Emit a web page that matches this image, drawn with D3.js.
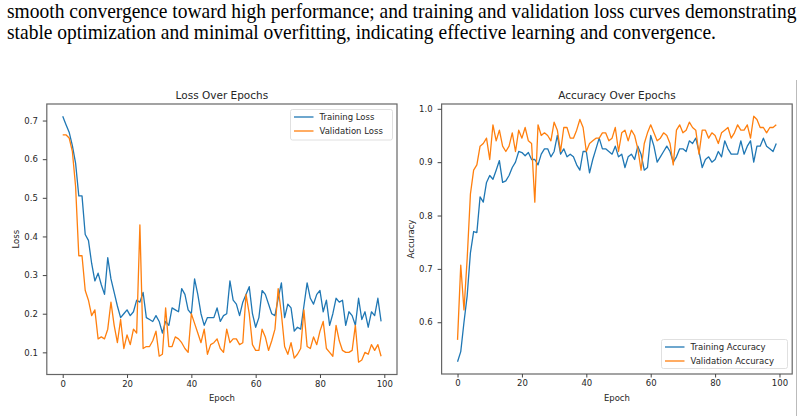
<!DOCTYPE html>
<html>
<head>
<meta charset="utf-8">
<script src="https://cdn.jsdelivr.net/npm/d3@7"></script>
<style>
  body { margin: 0; background: #fff; }
  svg { display: block; }
  .para { font-family: "Liberation Serif", serif; font-size: 19.5px; fill: #000; }
  .tick text, .legend text, .label { font-family: "DejaVu Sans", sans-serif; font-size: 8.5px; fill: #262626; }
  .title { font-family: "DejaVu Sans", sans-serif; font-size: 10.5px; fill: #262626; }
  .tick line { stroke: #444; }
</style>
</head>
<body>
<svg id="fig" width="804" height="416"></svg>
<script>
let para_lines = [
  "smooth convergence toward high performance; and training and validation loss curves demonstrating",
  "stable optimization and minimal overfitting, indicating effective learning and convergence."
]

let epochs = d3.range(100)
let epoch_ticks = [0, 20, 40, 60, 80, 100]
let loss_ticks = [0.1, 0.2, 0.3, 0.4, 0.5, 0.6, 0.7]
let acc_ticks = [0.6, 0.7, 0.8, 0.9, 1.0]

let train_loss = [
  0.711, 0.69, 0.67, 0.635, 0.59, 0.505, 0.505, 0.405, 0.39, 0.33,
  0.285, 0.305, 0.275, 0.25, 0.345, 0.29, 0.255, 0.22, 0.19, 0.2,
  0.21, 0.195, 0.205, 0.235, 0.23, 0.255, 0.19, 0.185, 0.18, 0.195,
  0.18, 0.15, 0.18, 0.17, 0.215, 0.21, 0.205, 0.265, 0.25, 0.21,
  0.2, 0.29, 0.25, 0.2, 0.17, 0.19, 0.19, 0.19, 0.215, 0.18,
  0.195, 0.2, 0.285, 0.235, 0.225, 0.195, 0.23, 0.25, 0.27, 0.2,
  0.165, 0.19, 0.26, 0.25, 0.225, 0.2, 0.195, 0.24, 0.28, 0.19,
  0.225, 0.215, 0.155, 0.165, 0.16, 0.22, 0.28, 0.24, 0.225, 0.25,
  0.26, 0.205, 0.235, 0.17, 0.2, 0.24, 0.23, 0.235, 0.17, 0.205,
  0.195, 0.17, 0.24, 0.185, 0.205, 0.165, 0.205, 0.195, 0.24, 0.18
]
let val_loss = [
  0.663, 0.663, 0.655, 0.62, 0.53, 0.35, 0.35, 0.26, 0.235, 0.195,
  0.21, 0.135, 0.14, 0.135, 0.16, 0.23, 0.17, 0.125, 0.185, 0.11,
  0.145, 0.12, 0.16, 0.15, 0.43, 0.11, 0.115, 0.115, 0.13, 0.155,
  0.09, 0.095, 0.215, 0.115, 0.115, 0.14, 0.135, 0.125, 0.11, 0.1,
  0.2, 0.175, 0.15, 0.125, 0.16, 0.095, 0.12, 0.125, 0.135, 0.11,
  0.1, 0.16, 0.125, 0.135, 0.135, 0.12, 0.125, 0.25, 0.2, 0.12,
  0.105, 0.105, 0.16, 0.14, 0.105, 0.13, 0.16, 0.265, 0.2, 0.115,
  0.095, 0.125, 0.085, 0.095, 0.11, 0.21, 0.115, 0.11, 0.14, 0.12,
  0.155, 0.18, 0.11, 0.1, 0.09, 0.17, 0.13, 0.105, 0.1, 0.1,
  0.105, 0.17, 0.0745, 0.08, 0.1, 0.095, 0.12, 0.105, 0.12, 0.09
]
let train_acc = [
  0.526, 0.545, 0.6, 0.65, 0.73, 0.77, 0.768, 0.835, 0.825, 0.862,
  0.875, 0.868, 0.885, 0.903, 0.862, 0.865, 0.875, 0.89, 0.9, 0.92,
  0.918, 0.912, 0.918, 0.905, 0.905, 0.895, 0.915, 0.925, 0.925, 0.91,
  0.92, 0.95, 0.915, 0.925, 0.91, 0.915, 0.91, 0.895, 0.885, 0.92,
  0.92, 0.88, 0.905, 0.925, 0.945, 0.925, 0.925, 0.92, 0.915, 0.93,
  0.91, 0.915, 0.89, 0.91, 0.915, 0.905, 0.93, 0.915, 0.885, 0.89,
  0.95, 0.93, 0.9, 0.91, 0.92, 0.93, 0.92, 0.9, 0.91, 0.925,
  0.925, 0.92, 0.94, 0.935, 0.945, 0.92, 0.89, 0.905, 0.91, 0.9,
  0.905, 0.92, 0.91, 0.94, 0.925, 0.915, 0.915, 0.915, 0.94, 0.915,
  0.93, 0.94, 0.9, 0.93, 0.93, 0.945, 0.93, 0.925, 0.92, 0.935
]
let val_acc = [
  0.567, 0.707, 0.623, 0.72, 0.84, 0.885, 0.895, 0.93, 0.935, 0.945,
  0.905, 0.97, 0.94, 0.96, 0.93, 0.92, 0.93, 0.955, 0.92, 0.96,
  0.945, 0.965, 0.94, 0.935, 0.825, 0.97, 0.95, 0.955, 0.95, 0.94,
  0.975, 0.96, 0.92, 0.965, 0.965, 0.945, 0.945, 0.96, 0.98, 0.965,
  0.92, 0.935, 0.94, 0.945, 0.945, 0.955, 0.955, 0.94, 0.945, 0.965,
  0.92, 0.955, 0.96, 0.94, 0.96, 0.95, 0.925, 0.885, 0.935, 0.955,
  0.97, 0.955, 0.94, 0.945, 0.955, 0.95, 0.935, 0.895, 0.96, 0.97,
  0.955, 0.96, 0.975, 0.965, 0.96, 0.915, 0.96, 0.96, 0.945, 0.955,
  0.95, 0.935, 0.955, 0.96, 0.965, 0.945, 0.955, 0.97, 0.96, 0.96,
  0.97, 0.945, 0.986, 0.98, 0.965, 0.965, 0.955, 0.965, 0.965, 0.97
]

let blue = "#1f77b4", orange = "#ff7f0e"
let svg = d3.select("#fig")

// matplotlib-style autoscale: data extent plus 5% each side
function padded(values) {
  let [lo, hi] = d3.extent(values)
  let m = (hi - lo) * 0.05
  return [lo - m, hi + m]
}

function panel(opts) {
  let b = opts.box
  let g = svg.append("g")
  let x = d3.scaleLinear().domain(padded(epochs)).range([b.left, b.right])
  let y = d3.scaleLinear()
    .domain(padded(opts.series.flatMap(s => s.values)))
    .range([b.bottom, b.top])

  let line = d3.line().x((d, i) => x(epochs[i])).y(d => y(d))
  opts.series.forEach(s => {
    g.append("path")
      .attr("d", line(s.values))
      .attr("fill", "none")
      .attr("stroke", s.color)
      .attr("stroke-width", 1.3)
      .attr("stroke-linejoin", "round")
  })

  g.append("rect")
    .attr("x", b.left).attr("y", b.top)
    .attr("width", b.right - b.left).attr("height", b.bottom - b.top)
    .attr("fill", "none").attr("stroke", "#666").attr("stroke-width", 1.2)

  g.append("g")
    .attr("transform", `translate(0, ${b.bottom})`)
    .call(d3.axisBottom(x).tickValues(epoch_ticks).tickFormat(d3.format("d")).tickSize(3.5).tickPadding(2.5))
    .call(a => a.select(".domain").remove())
  g.append("g")
    .attr("transform", `translate(${b.left}, 0)`)
    .call(d3.axisLeft(y).tickValues(opts.y_ticks).tickFormat(d3.format(".1f")).tickSize(4).tickPadding(5))
    .call(a => a.select(".domain").remove())

  g.append("text").attr("class", "title")
    .attr("x", (b.left + b.right) / 2).attr("y", 99)
    .attr("text-anchor", "middle").text(opts.title)
  g.append("text").attr("class", "label")
    .attr("x", (b.left + b.right) / 2).attr("y", 401)
    .attr("text-anchor", "middle").text("Epoch")
  g.append("text").attr("class", "label")
    .attr("transform", `translate(${opts.y_label_x}, ${(b.top + b.bottom) / 2})rotate(-90)`)
    .attr("text-anchor", "middle").text(opts.y_label)

  let L = opts.legend
  let lg = g.append("g").attr("class", "legend")
  lg.append("rect")
    .attr("x", L.x).attr("y", L.y).attr("width", L.w).attr("height", L.h)
    .attr("rx", 2).attr("fill", "#fff").attr("fill-opacity", 0.8)
    .attr("stroke", "#d8d8d8").attr("stroke-width", 0.8)
  opts.series.forEach((s, i) => {
    let yy = L.y + 7.5 + i * 14
    lg.append("line")
      .attr("x1", L.x + 3.5).attr("x2", L.x + 23).attr("y1", yy).attr("y2", yy)
      .attr("stroke", s.color).attr("stroke-width", 1.3)
    lg.append("text").attr("x", L.x + 29).attr("y", yy + 3).text(s.name)
  })
}

svg.append("rect").attr("width", 804).attr("height", 416).attr("fill", "#fff")

// the caption text in the source is a little taller than it is wide
para_lines.forEach((t, i) => {
  svg.append("text").attr("class", "para")
    .attr("transform", `translate(7, ${17.5 + i * 21.5})scale(1, 1.07)`)
    .text(t)
})

panel({
  box: {left: 46.8, right: 397, top: 104, bottom: 374.5},
  series: [
    {name: "Training Loss", values: train_loss, color: blue},
    {name: "Validation Loss", values: val_loss, color: orange}
  ],
  y_ticks: loss_ticks,
  title: "Loss Over Epochs",
  y_label: "Loss",
  y_label_x: 19,
  legend: {x: 290.5, y: 109.5, w: 102, h: 30.5}
})

panel({
  box: {left: 441.6, right: 792.2, top: 104, bottom: 374},
  series: [
    {name: "Training Accuracy", values: train_acc, color: blue},
    {name: "Validation Accuracy", values: val_acc, color: orange}
  ],
  y_ticks: acc_ticks,
  title: "Accuracy Over Epochs",
  y_label: "Accuracy",
  y_label_x: 414,
  legend: {x: 661.5, y: 339.5, w: 126, h: 29}
})

svg.append("line")
  .attr("x1", 796.5).attr("x2", 796.5).attr("y1", 80).attr("y2", 416)
  .attr("stroke", "#bbb").attr("stroke-width", 1)
</script>
</body>
</html>
